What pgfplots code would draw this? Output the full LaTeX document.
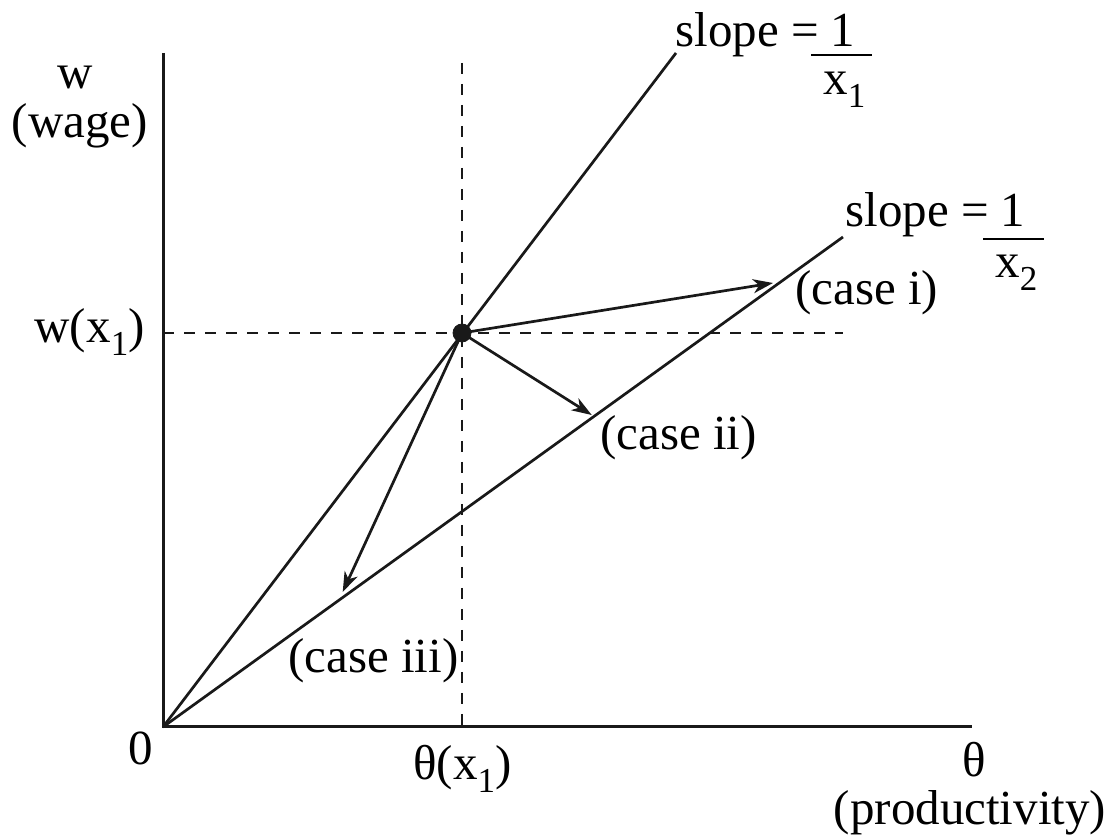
\documentclass[border=0pt]{standalone}
\usepackage{fontspec}
\setmainfont{Liberation Serif}
\usepackage{pgfplots}
\pgfplotsset{compat=1.18}
\usetikzlibrary{arrows.meta}
\newcommand{\sub}[1]{\raisebox{-6.5pt}{\fontsize{17.5}{18}\selectfont #1}}
\begin{document}
\begin{tikzpicture}[font=\fontsize{24.5}{29}\selectfont]
\useasboundingbox (0,0) rectangle (557.5pt,419pt);
\begin{axis}[at={(0,0)}, anchor=south west, scale only axis,
  width=557.5pt, height=419pt,
  xmin=-163, xmax=952, ymin=-111, ymax=727,
  hide axis, clip=false]
% axes
\addplot[black!90, line width=1.5pt] coordinates {(0,674) (0,0) (809,0)};
% dashed guides
\addplot[black!90, line width=1.35pt, dash pattern=on 5.5pt off 5pt] coordinates {(0,394) (680,394)};
\addplot[black!90, line width=1.35pt, dash pattern=on 5.5pt off 5pt] coordinates {(299,664) (299,0)};
% rays
\addplot[black!90, line width=1.35pt] coordinates {(0,0) (513,674)};
\addplot[black!90, line width=1.35pt] coordinates {(0,0) (680,490)};
% arrows
\addplot[black!90, line width=1.35pt, -{Stealth[length=10pt,width=7pt,inset=3pt]}] coordinates {(299,394) (610,444)};
\addplot[black!90, line width=1.35pt, -{Stealth[length=10pt,width=7pt,inset=3pt]}] coordinates {(299,394) (428.7,312)};
\addplot[black!90, line width=1.35pt, -{Stealth[length=10pt,width=7pt,inset=3pt]}] coordinates {(299,394) (179.7,135)};
% point
\addplot[black!90, only marks, mark=*, mark size=4.5pt] coordinates {(299,394)};
% labels
\node[anchor=base, inner sep=0] at (axis cs:-88,638) {w};
\node[anchor=base, inner sep=0] at (axis cs:-83,589) {(wage)};
\node[anchor=base east, inner sep=0] at (axis cs:-18,384) {w(x\sub{1})};
\node[anchor=base, inner sep=0] at (axis cs:-22,-38) {0};
\node[anchor=base west, inner sep=0] at (axis cs:250,-53) {θ(x\sub{1})};
\node[anchor=base, inner sep=0] at (axis cs:811,-50) {θ};
\node[anchor=base, inner sep=0] at (axis cs:807,-98) {(productivity)};
\node[anchor=base west, inner sep=0] at (axis cs:512,680) {slope = 1};
\node[inner sep=0] at (axis cs:678.5,672) {\rule{30.5pt}{1.4pt}};
\node[anchor=base west, inner sep=0] at (axis cs:660,632) {x\sub{1}};
\node[anchor=base west, inner sep=0] at (axis cs:682,500) {slope = 1};
\node[inner sep=0] at (axis cs:850.5,488) {\rule{30.5pt}{1.4pt}};
\node[anchor=base west, inner sep=0] at (axis cs:832,449) {x\sub{2}};
\node[anchor=base west, inner sep=0] at (axis cs:632,422) {(case i)};
\node[anchor=base west, inner sep=0] at (axis cs:437,277) {(case ii)};
\node[anchor=base west, inner sep=0] at (axis cs:125,54) {(case iii)};
\end{axis}
\end{tikzpicture}
\end{document}
